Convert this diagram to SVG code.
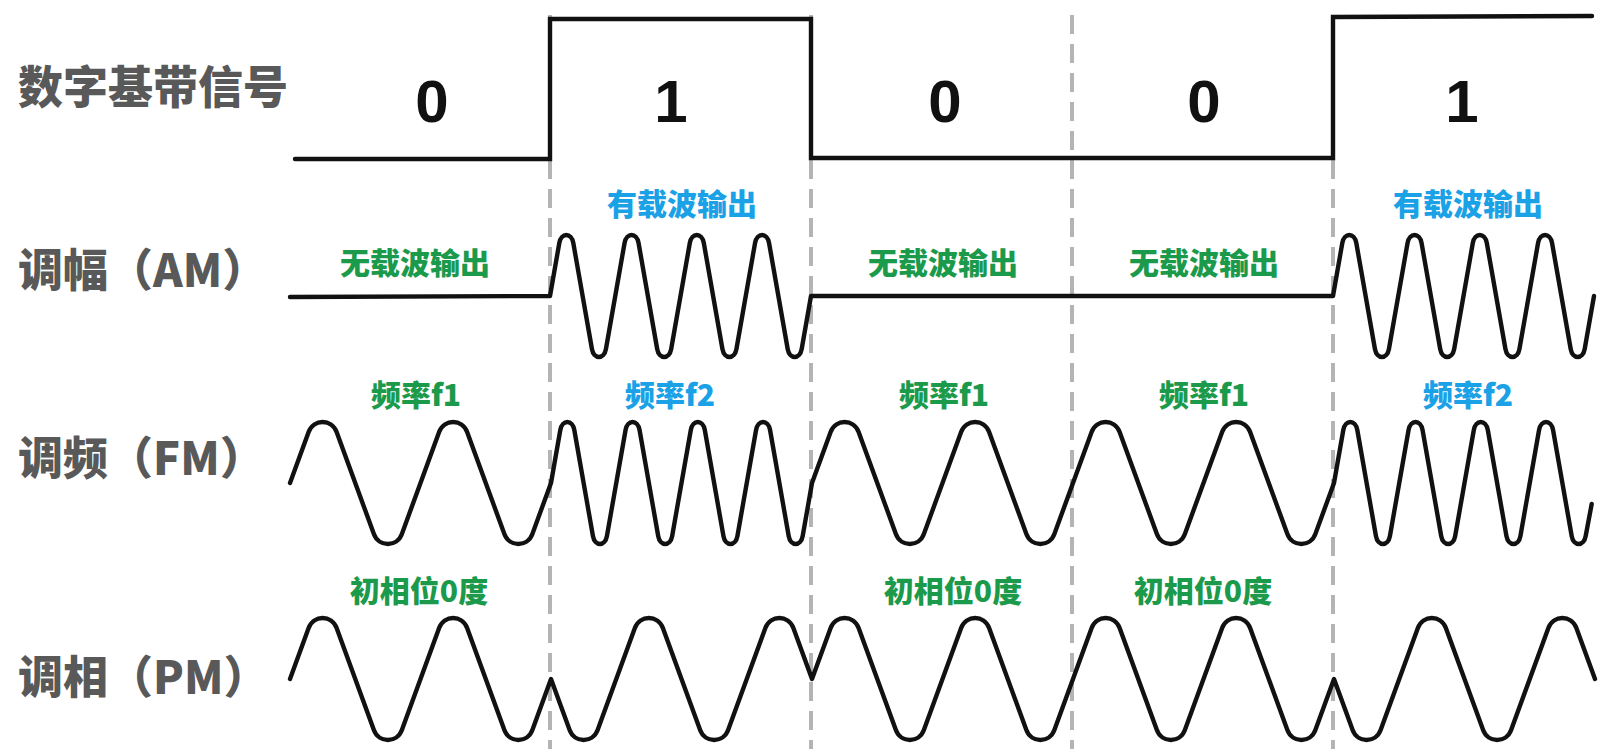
<svg xmlns="http://www.w3.org/2000/svg" width="1614" height="749" viewBox="0 0 1614 749">
<style>
.bg{fill:#ffffff}
.lbl{font-family:"Noto Sans CJK SC","Noto Sans",sans-serif;font-weight:900;font-size:45px;fill:#595959}
.bit{font-family:"Liberation Sans",Arial,sans-serif;font-weight:700;font-size:60px;fill:#111111;text-anchor:middle}
.g{font-family:"Noto Sans CJK SC","Noto Sans",sans-serif;font-weight:900;font-size:30px;fill:#1b9a4b;text-anchor:middle}
.b{font-family:"Noto Sans CJK SC","Noto Sans",sans-serif;font-weight:900;font-size:30px;fill:#1ba1e6;text-anchor:middle}
.wave{fill:none;stroke:#111111;stroke-width:4.4;stroke-linejoin:round;stroke-linecap:round}
.div{stroke:#b4b4b4;stroke-width:4;stroke-dasharray:19 10}
</style>
<rect class="bg" x="0" y="0" width="1614" height="749"/>
<g id="dividers">
<line class="div" x1="550" y1="15" x2="550" y2="749"/>
<line class="div" x1="811" y1="15" x2="811" y2="749"/>
<line class="div" x1="1072" y1="15" x2="1072" y2="749"/>
<line class="div" x1="1333" y1="15" x2="1333" y2="749"/>
</g>
<g id="row-baseband">
<text class="lbl" x="18" y="104">数字基带信号</text>
<path class="wave" style="stroke-linejoin:miter" d="M 295 159 L 550 159 L 550 19 L 811 19 L 811 158 L 1333 158 L 1333 17 L 1592 16"/>
<text class="bit" x="432" y="122">0</text>
<text class="bit" x="671" y="122">1</text>
<text class="bit" x="945" y="122">0</text>
<text class="bit" x="1204" y="122">0</text>
<text class="bit" x="1462" y="122">1</text>
</g>
<g id="row-am">
<text class="lbl" x="18" y="287">调幅（AM）</text>
<text class="g" x="415" y="274">无载波输出</text>
<text class="b" x="682" y="215">有载波输出</text>
<text class="g" x="943" y="274">无载波输出</text>
<text class="g" x="1204" y="274">无载波输出</text>
<text class="b" x="1468" y="215">有载波输出</text>
<path class="wave" d="M 290 297 L 550 296
l 9.3125 -53 c 1.875 -10.67 12.125 -10.67 14 0 l 18.625 106 c 1.875 10.67 12.125 10.67 14 0 l 9.3125 -53
l 9.3125 -53 c 1.875 -10.67 12.125 -10.67 14 0 l 18.625 106 c 1.875 10.67 12.125 10.67 14 0 l 9.3125 -53
l 9.3125 -53 c 1.875 -10.67 12.125 -10.67 14 0 l 18.625 106 c 1.875 10.67 12.125 10.67 14 0 l 9.3125 -53
l 9.3125 -53 c 1.875 -10.67 12.125 -10.67 14 0 l 18.625 106 c 1.875 10.67 12.125 10.67 14 0 l 9.3125 -53
L 1333 296
l 9.3125 -53 c 1.875 -10.67 12.125 -10.67 14 0 l 18.625 106 c 1.875 10.67 12.125 10.67 14 0 l 9.3125 -53
l 9.3125 -53 c 1.875 -10.67 12.125 -10.67 14 0 l 18.625 106 c 1.875 10.67 12.125 10.67 14 0 l 9.3125 -53
l 9.3125 -53 c 1.875 -10.67 12.125 -10.67 14 0 l 18.625 106 c 1.875 10.67 12.125 10.67 14 0 l 9.3125 -53
l 9.3125 -53 c 1.875 -10.67 12.125 -10.67 14 0 l 18.625 106 c 1.875 10.67 12.125 10.67 14 0 l 9.3125 -53"/>
</g>
<g id="row-fm">
<text class="lbl" x="18" y="475">调频（FM）</text>
<text class="g" x="416" y="406">频率f1</text>
<text class="b" x="670" y="406">频率f2</text>
<text class="g" x="944" y="406">频率f1</text>
<text class="g" x="1204" y="406">频率f1</text>
<text class="b" x="1468" y="406">频率f2</text>
<path class="wave" d="M 290 483
l 18.625 -51 c 4.87 -13.33 23.13 -13.33 28 0 l 37.25 102 c 4.87 13.33 23.13 13.33 28 0 l 18.625 -51
l 18.625 -51 c 4.87 -13.33 23.13 -13.33 28 0 l 37.25 102 c 4.87 13.33 23.13 13.33 28 0 l 18.625 -51
l 9.3125 -53 c 1.875 -10.67 12.125 -10.67 14 0 l 18.625 106 c 1.875 10.67 12.125 10.67 14 0 l 9.3125 -53
l 9.3125 -53 c 1.875 -10.67 12.125 -10.67 14 0 l 18.625 106 c 1.875 10.67 12.125 10.67 14 0 l 9.3125 -53
l 9.3125 -53 c 1.875 -10.67 12.125 -10.67 14 0 l 18.625 106 c 1.875 10.67 12.125 10.67 14 0 l 9.3125 -53
l 9.3125 -53 c 1.875 -10.67 12.125 -10.67 14 0 l 18.625 106 c 1.875 10.67 12.125 10.67 14 0 l 9.3125 -53
l 18.625 -51 c 4.87 -13.33 23.13 -13.33 28 0 l 37.25 102 c 4.87 13.33 23.13 13.33 28 0 l 18.625 -51
l 18.625 -51 c 4.87 -13.33 23.13 -13.33 28 0 l 37.25 102 c 4.87 13.33 23.13 13.33 28 0 l 18.625 -51
l 18.625 -51 c 4.87 -13.33 23.13 -13.33 28 0 l 37.25 102 c 4.87 13.33 23.13 13.33 28 0 l 18.625 -51
l 18.625 -51 c 4.87 -13.33 23.13 -13.33 28 0 l 37.25 102 c 4.87 13.33 23.13 13.33 28 0 l 18.625 -51
l 9.3125 -53 c 1.875 -10.67 12.125 -10.67 14 0 l 18.625 106 c 1.875 10.67 12.125 10.67 14 0 l 9.3125 -53
l 9.3125 -53 c 1.875 -10.67 12.125 -10.67 14 0 l 18.625 106 c 1.875 10.67 12.125 10.67 14 0 l 9.3125 -53
l 9.3125 -53 c 1.875 -10.67 12.125 -10.67 14 0 l 18.625 106 c 1.875 10.67 12.125 10.67 14 0 l 9.3125 -53
l 9.3125 -53 c 1.875 -10.67 12.125 -10.67 14 0 l 18.625 106 c 1.875 10.67 12.125 10.67 14 0 l 6 -32"/>
</g>
<g id="row-pm">
<text class="lbl" x="18" y="694">调相（PM）</text>
<text class="g" x="419" y="602">初相位0度</text>
<text class="g" x="953" y="602">初相位0度</text>
<text class="g" x="1203" y="602">初相位0度</text>
<path class="wave" d="M 290 679
l 18.625 -51 c 4.87 -13.33 23.13 -13.33 28 0 l 37.25 102 c 4.87 13.33 23.13 13.33 28 0 l 18.625 -51
l 18.625 -51 c 4.87 -13.33 23.13 -13.33 28 0 l 37.25 102 c 4.87 13.33 23.13 13.33 28 0 l 18.625 -51
l 18.625 51 c 4.87 13.33 23.13 13.33 28 0 l 37.25 -102 c 4.87 -13.33 23.13 -13.33 28 0 l 18.625 51
l 18.625 51 c 4.87 13.33 23.13 13.33 28 0 l 37.25 -102 c 4.87 -13.33 23.13 -13.33 28 0 l 18.625 51
l 18.625 -51 c 4.87 -13.33 23.13 -13.33 28 0 l 37.25 102 c 4.87 13.33 23.13 13.33 28 0 l 18.625 -51
l 18.625 -51 c 4.87 -13.33 23.13 -13.33 28 0 l 37.25 102 c 4.87 13.33 23.13 13.33 28 0 l 18.625 -51
l 18.625 -51 c 4.87 -13.33 23.13 -13.33 28 0 l 37.25 102 c 4.87 13.33 23.13 13.33 28 0 l 18.625 -51
l 18.625 -51 c 4.87 -13.33 23.13 -13.33 28 0 l 37.25 102 c 4.87 13.33 23.13 13.33 28 0 l 18.625 -51
l 18.625 51 c 4.87 13.33 23.13 13.33 28 0 l 37.25 -102 c 4.87 -13.33 23.13 -13.33 28 0 l 18.625 51
l 18.625 51 c 4.87 13.33 23.13 13.33 28 0 l 37.25 -102 c 4.87 -13.33 23.13 -13.33 28 0 l 18.625 51"/>
</g>
</svg>
